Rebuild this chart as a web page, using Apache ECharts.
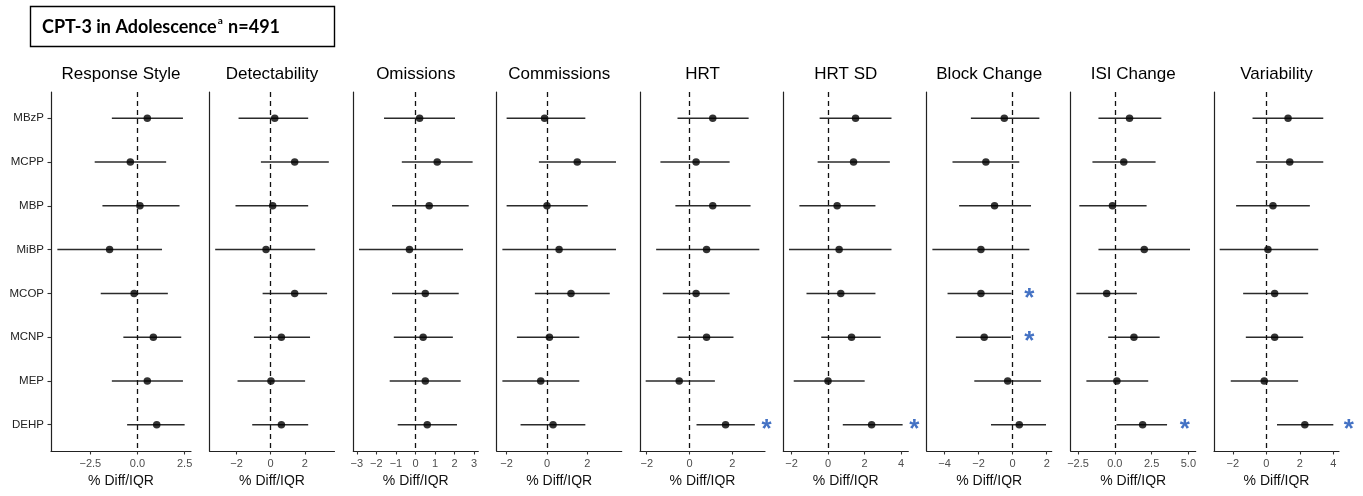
<!DOCTYPE html>
<html><head><meta charset="utf-8">
<script src="https://cdn.jsdelivr.net/npm/echarts@6/dist/echarts.min.js"></script>
<style>html,body{margin:0;padding:0;background:#fff}#c{width:1363px;height:496px}</style>
</head><body><div id="c"></div><script>
// ---- data (lower CI, estimate, upper CI) per panel, rows in category order ----
const categories = ['MBzP','MCPP','MBP','MiBP','MCOP','MCNP','MEP','DEHP'];
const panelTitles = ['Response Style','Detectability','Omissions','Commissions','HRT','HRT SD','Block Change','ISI Change','Variability'];

const responseStyle = [[-1.36,0.52,2.41],[-2.27,-0.38,1.52],[-1.86,0.13,2.23],[-4.25,-1.48,1.30],[-1.95,-0.18,1.61],[-0.75,0.84,2.32],[-1.36,0.52,2.41],[-0.55,1.02,2.50]];
const detectability = [[-1.88,0.24,2.20],[-0.57,1.41,3.41],[-2.06,0.12,2.20],[-3.25,-0.27,2.61],[-0.47,1.41,3.31],[-0.98,0.63,2.31],[-1.94,0.02,2.02],[-1.08,0.63,2.20]];
const omissions = [[-1.61,0.21,2.02],[-0.70,1.11,2.92],[-1.20,0.70,2.72],[-2.89,-0.31,2.43],[-1.20,0.50,2.21],[-1.11,0.39,1.91],[-1.32,0.50,2.31],[-0.91,0.60,2.12]];
const commissions = [[-2.00,-0.12,1.90],[-0.40,1.50,3.42],[-2.00,0.00,2.02],[-2.21,0.60,3.42],[-0.60,1.19,3.11],[-1.49,0.12,1.60],[-2.21,-0.31,1.60],[-1.31,0.30,1.90]];
const hrt = [[-0.56,1.09,2.77],[-1.36,0.31,1.88],[-0.66,1.09,2.86],[-1.56,0.80,3.27],[-1.25,0.31,1.88],[-0.56,0.80,2.06],[-2.05,-0.48,1.19],[0.33,1.69,3.06]];
const hrtSd = [[-0.46,1.51,3.48],[-0.57,1.40,3.39],[-1.57,0.50,2.60],[-2.14,0.61,3.48],[-1.18,0.70,2.60],[-0.37,1.29,2.89],[-1.88,0.00,2.01],[0.81,2.39,4.09]];
const blockChange = [[-2.45,-0.49,1.57],[-3.53,-1.57,0.39],[-3.14,-1.06,1.08],[-4.71,-1.86,0.98],[-3.82,-1.86,-0.06],[-3.33,-1.67,-0.10],[-2.25,-0.29,1.67],[-1.27,0.39,1.96]];
const isiChange = [[-1.11,1.00,3.16],[-1.52,0.61,2.77],[-2.41,-0.16,2.16],[-1.11,2.00,5.11],[-2.61,-0.55,1.50],[-0.45,1.30,3.05],[-1.93,0.14,2.27],[0.11,1.89,3.55]];
const variability = [[-0.82,1.30,3.40],[-0.60,1.40,3.40],[-1.80,0.40,2.60],[-2.78,0.10,3.10],[-1.38,0.50,2.50],[-1.22,0.50,2.20],[-2.12,-0.12,1.90],[0.64,2.30,4.00]];

// tick labels per panel
const ticksResponseStyle = [-2.5,0,2.5];
const ticksDetectability = [-2,0,2];
const ticksOmissions = [-3,-2,-1,0,1,2,3];
const ticksCommissions = [-2,0,2];
const ticksHrt = [-2,0,2];
const ticksHrtSd = [-2,0,2,4];
const ticksBlockChange = [-4,-2,0,2];
const ticksIsiChange = [-2.5,0,2.5,5];
const ticksVariability = [-2,0,2,4];

// significance markers: [panel index, category index, x position]
const starMarks = [[4,7,3.61],[5,7,4.73],[6,4,0.98],[6,5,0.98],[7,7,4.75],[8,7,4.92]];

// ---- layout ----
const panels = [responseStyle,detectability,omissions,commissions,hrt,hrtSd,blockChange,isiChange,variability];
const tickSets = [ticksResponseStyle,ticksDetectability,ticksOmissions,ticksCommissions,ticksHrt,ticksHrtSd,ticksBlockChange,ticksIsiChange,ticksVariability];
const decimalPanels = [0,7];
const gridLefts = [51,209.5,353.3,496.7,640,783.3,926.7,1070.7,1214];
const gridWidths = [140,125,125,125,125,125,125,125,125];
const GTOP = 92, GH = 359;
const FONT = '"Liberation Sans", Arial, Helvetica, sans-serif';
const catIdx = categories.map((c,i)=>i);

const grids=[], xAxes=[], yAxes=[], series=[], graphics=[];
panels.forEach((rows,p)=>{
  const lo = Math.min(...rows.map(r=>r[0])), hi = Math.max(...rows.map(r=>r[2]));
  const pad = (hi-lo)*0.05;
  grids.push({left:gridLefts[p], top:GTOP, width:gridWidths[p], height:GH});
  const dec = decimalPanels.includes(p);
  xAxes.push({
    type:'value', gridIndex:p, min:lo-pad, max:hi+pad,
    axisLine:{show:true,onZero:false,lineStyle:{color:'#222',width:1.2}},
    axisTick:{show:true,length:3.5,customValues:tickSets[p],lineStyle:{color:'#333',width:1.1}},
    axisLabel:{customValues:tickSets[p],fontSize:11,color:'#4d4d4d',margin:7,fontFamily:FONT,
      formatter:v=>(dec?Number(v).toFixed(1):String(v)).replace('-','\u2212')},
    splitLine:{show:false},
    name:'% Diff/IQR', nameLocation:'middle', nameGap:20,
    nameTextStyle:{fontSize:14,color:'#111',fontFamily:FONT}
  });
  yAxes.push({
    type:'value', gridIndex:p, inverse:true, min:-0.6, max:7.6,
    axisLine:{show:true,onZero:false,lineStyle:{color:'#222',width:1.2}},
    axisTick:{show:p===0,length:3.5,customValues:catIdx,lineStyle:{color:'#333',width:1.1}},
    axisLabel:{show:p===0,customValues:catIdx,fontSize:11.5,color:'#222',margin:7,fontFamily:FONT,
      formatter:v=>categories[Math.round(v)]},
    splitLine:{show:false}
  });
  series.push({
    type:'custom', coordinateSystem:'cartesian2d', xAxisIndex:p, yAxisIndex:p,
    data: rows.map((r,i)=>[r[0],i,r[2]]),
    encode:{x:[0,2],y:1},
    renderItem:(params,api)=>{
      const a = api.coord([api.value(0),api.value(1)]);
      const b = api.coord([api.value(2),api.value(1)]);
      return {type:'line',shape:{x1:a[0],y1:a[1],x2:b[0],y2:b[1]},style:{stroke:'#2b2b2b',lineWidth:1.5}};
    },
    markLine:{silent:true,symbol:'none',label:{show:false},
      lineStyle:{color:'#111',width:1.3,type:[5,4]},data:[{xAxis:0}]},
    z:2
  });
  series.push({
    type:'scatter', xAxisIndex:p, yAxisIndex:p,
    data: rows.map((r,i)=>[r[1],i]),
    symbol:'circle', symbolSize:7.5, itemStyle:{color:'#000'}, z:3
  });
  const stars = starMarks.filter(s=>s[0]===p).map(s=>[s[2],s[1]]);
  if (stars.length) series.push({
    type:'custom', coordinateSystem:'cartesian2d', xAxisIndex:p, yAxisIndex:p, clip:false,
    data: stars,
    renderItem:(params,api)=>{
      const c = api.coord([api.value(0),api.value(1)]);
      return {type:'text',x:c[0],y:c[1]+5,style:{text:'*',fill:'#4472C4',font:'bold 26px '+FONT,align:'center',verticalAlign:'middle'}};
    }, z:4
  });
  graphics.push({type:'text', x:gridLefts[p]+gridWidths[p]/2, y:74,
    style:{text:panelTitles[p],fill:'#000',font:'17px '+FONT,align:'center',verticalAlign:'middle'}});
});

graphics.push({type:'rect',shape:{x:30.5,y:6.5,width:304,height:40},style:{fill:'#fff',stroke:'#000',lineWidth:1.4}});
graphics.push({type:'text',x:42,y:27,style:{
  text:'{b|CPT-3 in Adolescence}{s|a}{b| n=491}', verticalAlign:'middle',
  rich:{b:{font:'bold 18px Lato, "Open Sans", sans-serif',fill:'#000',lineHeight:22},
        s:{font:'bold 10px Lato, "Open Sans", sans-serif',fill:'#000',lineHeight:22,verticalAlign:'top',padding:[0,1,0,1]}}
}});

const chart = echarts.init(document.getElementById('c'),null,{renderer:'canvas'});
chart.setOption({
  animation:false, backgroundColor:'#fff',
  grid:grids, xAxis:xAxes, yAxis:yAxes, series:series, graphic:graphics
});
</script></body></html>
